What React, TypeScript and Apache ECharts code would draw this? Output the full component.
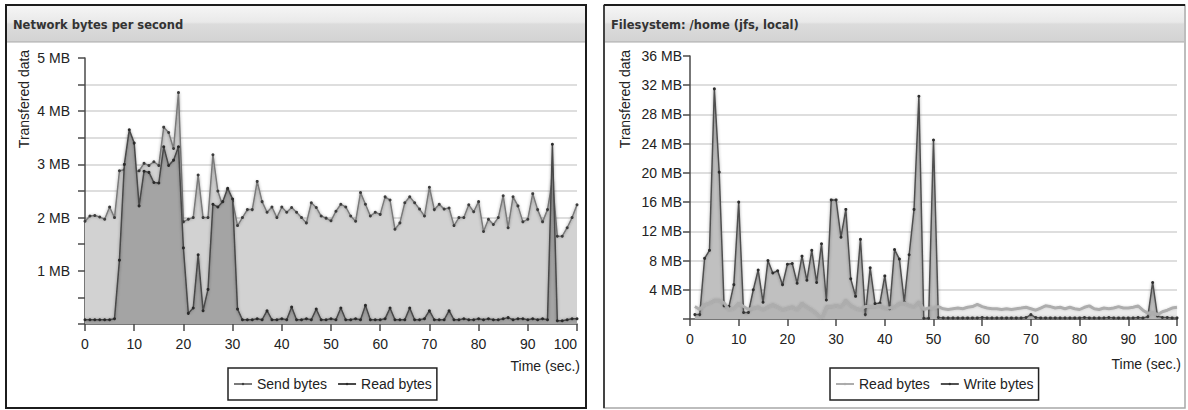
import React, { useEffect, useRef } from "react";
import * as echarts from "echarts";

// ---------- DATA ----------
// Network chart: one sample per second, starting at t = 0
const netStartSec = 0;
const sendBytes = [
  1.93, 2.03, 2.04, 2.01, 1.97, 2.2, 2.0, 2.88, 2.9, 3.55,
  2.85, 2.88, 3.02, 2.98, 3.05, 2.98, 3.7, 3.6, 3.3, 4.35,
  1.92, 1.97, 2.0, 2.8, 2.0, 2.0, 3.18, 2.5, 2.22, 2.53,
  2.31, 1.85, 2.0, 2.15, 2.15, 2.68, 2.3, 2.1, 2.2, 2.0,
  2.2, 2.1, 2.19, 2.1, 2.0, 1.9, 2.28, 2.19, 2.03, 1.99,
  1.94, 2.12, 2.25, 2.2, 2.03, 1.93, 2.47, 2.25, 2.03, 2.1,
  2.06, 2.39, 2.33, 1.78, 1.9, 2.28, 2.39, 2.28, 2.16, 2.03,
  2.57, 2.15, 2.25, 2.16, 2.18, 1.85, 2.0, 2.0, 2.24, 2.11,
  2.3, 1.74, 1.97, 1.87, 2.0, 2.41, 1.81, 2.39, 2.22, 1.92,
  1.97, 2.45, 2.15, 1.92, 2.15, 2.7, 1.65, 1.65, 1.81, 2.0,
  2.24,
];
const netReadBytes = [
  0.08, 0.08, 0.08, 0.08, 0.08, 0.08, 0.1, 1.2, 3.0, 3.65,
  3.4, 2.22, 2.87, 2.85, 2.66, 2.65, 3.33, 2.98, 3.08, 3.33,
  1.43, 0.2, 0.3, 1.3, 0.25, 0.65, 2.25, 2.2, 2.3, 2.55,
  2.35, 0.28, 0.08, 0.08, 0.08, 0.1, 0.08, 0.25, 0.08, 0.08,
  0.1, 0.08, 0.32, 0.08, 0.08, 0.1, 0.08, 0.28, 0.08, 0.08,
  0.1, 0.08, 0.3, 0.08, 0.08, 0.1, 0.08, 0.35, 0.08, 0.08,
  0.08, 0.1, 0.3, 0.08, 0.08, 0.08, 0.3, 0.08, 0.08, 0.1,
  0.25, 0.08, 0.08, 0.08, 0.25, 0.08, 0.08, 0.1, 0.08, 0.08,
  0.1, 0.08, 0.1, 0.08, 0.08, 0.1, 0.12, 0.08, 0.1, 0.1,
  0.08, 0.1, 0.08, 0.1, 0.08, 3.38, 0.06, 0.06, 0.08, 0.1,
  0.1,
];

// Filesystem chart: one sample per second, starting at t = 1
const fsStartSec = 1;
const fsReadBytes = [
  1.7, 1.3, 2.0, 2.2, 2.6, 2.6, 2.2, 1.3, 1.5, 2.2,
  1.7, 1.3, 1.5, 1.7, 1.3, 1.7, 2.0, 1.7, 1.3, 1.5,
  1.7, 1.3, 2.2, 1.7, 1.3, 0.8, 0.1, 1.7, 1.7, 1.9,
  1.7, 2.6, 1.9, 1.5, 1.3, 1.7, 1.7, 1.7, 1.9, 1.5,
  1.5, 1.7, 2.2, 2.2, 1.9, 1.7, 2.4, 1.3, 1.5, 1.5,
  1.7, 1.4, 1.3, 1.4, 1.5, 1.4, 1.6, 1.7, 2.0, 1.7,
  1.5, 1.4, 1.4, 1.3, 1.4, 1.3, 1.4, 1.5, 1.6, 1.4,
  1.2, 1.5, 1.8, 1.7, 1.5, 1.6, 1.4, 1.6, 1.4, 1.3,
  1.6, 1.8, 1.4, 1.3, 1.5, 1.4, 1.5, 1.7, 1.5, 1.5,
  1.6, 1.8, 1.2, 0.8, 0.9, 0.6, 1.0, 1.2, 1.5, 1.6,
];
const fsWriteBytes = [
  0.6, 0.6, 8.3, 9.4, 31.5, 20.1, 1.8, 1.7, 4.7, 16.0,
  0.9, 0.9, 4.0, 6.7, 2.3, 8.0, 6.3, 6.6, 4.7, 7.5,
  7.6, 4.9, 8.6, 5.3, 9.4, 5.0, 10.3, 2.6, 16.3, 16.3,
  11.2, 15.0, 5.5, 3.1, 10.9, 0.6, 7.0, 2.1, 2.2, 5.9,
  1.4, 9.5, 8.2, 2.3, 8.8, 15.0, 30.5, 0.1, 0.1, 24.5,
  0.2, 0.15, 0.15, 0.15, 0.15, 0.15, 0.15, 0.15, 0.15, 0.2,
  0.15, 0.15, 0.15, 0.15, 0.15, 0.15, 0.15, 0.15, 0.2, 0.6,
  0.2, 0.15, 0.15, 0.15, 0.15, 0.15, 0.15, 0.15, 0.15, 0.15,
  0.2, 0.15, 0.15, 0.15, 0.15, 0.2, 0.15, 0.15, 0.15, 0.15,
  0.15, 0.2, 0.15, 0.3, 5.0, 0.4, 0.2, 0.2, 0.15, 0.15,
];

const timeTicks = { min: 0, max: 100, interval: 10 };
const netAxis = { min: 0, max: 5, interval: 0.5 };
const fsAxis = { min: 0, max: 36, interval: 4 };

const netTitle = "Network bytes per second";
const fsTitle = "Filesystem: /home (jfs, local)";
const yTitle = "Transfered data";
const xTitle = "Time (sec.)";

// ---------- STYLE ----------
const FONT = "'Liberation Sans', Arial, sans-serif";
const TITLE_FONT = "bold 11.5px 'DejaVu Sans', Verdana, sans-serif";

const toPairs = (arr: number[], start: number) => arr.map((v, i) => [start + i, v]);

function panelGraphics(w: number, frameX: number, dark: boolean, title: string, yTitleX: number, timeRight: number, timeY: number) {
  const frameW = w;
  const grad = new echarts.graphic.LinearGradient(0, 0, 0, 1, [
    { offset: 0, color: "#f5f5f5" },
    { offset: 0.45, color: "#e9e9e9" },
    { offset: 0.5, color: "#dcdcdc" },
    { offset: 1, color: "#d3d3d3" },
  ]);
  const els: any[] = [
    {
      type: "rect",
      shape: { x: frameX + 1, y: 6, width: frameW - 2, height: 36 },
      style: { fill: grad },
      silent: true,
    },
    {
      type: "line",
      shape: { x1: frameX + 1, y1: 42, x2: frameX + frameW - 1, y2: 42 },
      style: { stroke: "#a9a9a9", lineWidth: 1 },
      silent: true,
    },
    {
      type: "rect",
      shape: { x: frameX, y: 5, width: frameW, height: 403 },
      style: { fill: "none", stroke: dark ? "#1c1c1c" : "#a8a8a8", lineWidth: dark ? 2 : 1.5 },
      silent: true,
    },
    {
      type: "text",
      x: frameX + 7,
      y: 25,
      style: { text: title, font: TITLE_FONT, fill: "#333", textVerticalAlign: "middle", verticalAlign: "middle" },
      silent: true,
    },
    {
      type: "text",
      x: yTitleX,
      y: 99,
      rotation: Math.PI / 2,
      style: {
        text: yTitle,
        font: "14px " + FONT,
        fill: "#222",
        textAlign: "center",
        align: "center",
        textVerticalAlign: "middle",
        verticalAlign: "middle",
      },
      silent: true,
    },
    {
      type: "text",
      x: timeRight,
      y: timeY,
      style: {
        text: xTitle,
        font: "14px " + FONT,
        fill: "#222",
        textAlign: "right",
        align: "right",
        textVerticalAlign: "middle",
        verticalAlign: "middle",
      },
      silent: true,
    },
  ];
  if (!dark) {
    els.push(
      {
        type: "line",
        shape: { x1: frameX, y1: 5, x2: frameX + frameW, y2: 5 },
        style: { stroke: "#1c1c1c", lineWidth: 2 },
        silent: true,
      },
      {
        type: "line",
        shape: { x1: frameX, y1: 5, x2: frameX, y2: 408 },
        style: { stroke: "#1c1c1c", lineWidth: 1.5 },
        silent: true,
      }
    );
  }
  return els;
}

const axisLineStyle = { color: "#4a4a4a", width: 1.5 };

function xAxisCfg() {
  return {
    type: "value",
    min: timeTicks.min,
    max: timeTicks.max,
    interval: timeTicks.interval,
    axisLine: { show: true, lineStyle: axisLineStyle },
    axisTick: { show: true, length: 7, lineStyle: axisLineStyle },
    axisLabel: { color: "#222", fontSize: 14, fontFamily: FONT, margin: 13, alignMaxLabel: "right" },
    splitLine: { show: false },
  };
}

function yAxisCfg(ax: { min: number; max: number; interval: number }, labelStep: number, margin: number) {
  return {
    type: "value",
    min: ax.min,
    max: ax.max,
    interval: ax.interval,
    axisLine: { show: true, lineStyle: axisLineStyle },
    axisTick: { show: true, length: 7, lineStyle: axisLineStyle },
    axisLabel: {
      color: "#222",
      fontSize: 14,
      fontFamily: FONT,
      margin,
      formatter: (v: number) => (v > 0 && Math.abs(v / labelStep - Math.round(v / labelStep)) < 1e-6 ? `${v} MB` : ""),
    },
    splitLine: {
      show: true,
      showMaxLine: false,
      showMinLine: false,
      lineStyle: { color: "#d3d3d3", width: 1.5 },
    },
  };
}

const glow = { shadowColor: "rgba(0,0,0,0.35)", shadowBlur: 3 };

function legendCfg(left: number, names: string[]) {
  return {
    left,
    top: 368,
    orient: "horizontal",
    itemWidth: 18,
    itemHeight: 3,
    itemGap: 10,
    borderColor: "#222",
    borderWidth: 1.5,
    borderRadius: 0,
    padding: [9, 5],
    textStyle: { fontSize: 14, fontFamily: FONT, color: "#222" },
    data: names,
    selectedMode: false,
  };
}

function netOption() {
  return {
    animation: false,
    graphic: panelGraphics(580, 6, true, netTitle, 24, 580, 366),
    grid: { left: 85, top: 58, width: 492, height: 266 },
    xAxis: xAxisCfg(),
    yAxis: yAxisCfg(netAxis, 1, 15),
    legend: legendCfg(228, ["Send bytes", "Read bytes"]),
    series: [
      {
        type: "line",
        name: "Send bytes",
        data: toPairs(sendBytes, netStartSec),
        symbol: "circle",
        symbolSize: 3,
        showSymbol: true,
        itemStyle: { color: "#3c3c3c" },
        lineStyle: { color: "#7a7a7a", width: 1.5, ...glow },
        areaStyle: { color: "#d2d2d2", opacity: 1 },
        z: 2,
      },
      {
        type: "line",
        name: "Read bytes",
        data: toPairs(netReadBytes, netStartSec),
        symbol: "circle",
        symbolSize: 3,
        showSymbol: true,
        itemStyle: { color: "#2a2a2a" },
        lineStyle: { color: "#484848", width: 1.5, ...glow },
        areaStyle: { color: "#a4a4a4", opacity: 1 },
        z: 3,
      },
    ],
  };
}

function fsOption() {
  return {
    animation: false,
    graphic: panelGraphics(581, 8, false, fsTitle, 29, 585, 364),
    grid: { left: 94, top: 56, width: 487, height: 263 },
    xAxis: xAxisCfg(),
    yAxis: yAxisCfg(fsAxis, 4, 8),
    legend: legendCfg(234, ["Read bytes", "Write bytes"]),
    series: [
      {
        type: "line",
        name: "Write bytes",
        data: toPairs(fsWriteBytes, fsStartSec),
        symbol: "circle",
        symbolSize: 3,
        showSymbol: true,
        itemStyle: { color: "#2e2e2e" },
        lineStyle: { color: "#505050", width: 1.5, ...glow },
        areaStyle: { color: "#c0c0c0", opacity: 1 },
        z: 2,
      },
      {
        type: "line",
        name: "Read bytes",
        data: toPairs(fsReadBytes, fsStartSec),
        symbol: "circle",
        symbolSize: 2,
        showSymbol: false,
        itemStyle: { color: "#aaaaaa" },
        lineStyle: { color: "#adadad", width: 3, shadowColor: "rgba(0,0,0,0.15)", shadowBlur: 2 },
        areaStyle: { color: "rgba(110,110,110,0.2)" },
        z: 3,
      },
    ],
  };
}

function ChartBox({ left, width, option }: { left: number; width: number; option: () => any }) {
  const ref = useRef<HTMLDivElement>(null);
  useEffect(() => {
    if (!ref.current) return;
    const chart = echarts.init(ref.current, undefined, { renderer: "svg" });
    chart.setOption(option());
    return () => chart.dispose();
  }, [option]);
  return <div ref={ref} style={{ position: "absolute", left, top: 0, width, height: 410 }} />;
}

export default function App() {
  return (
    <div style={{ position: "fixed", left: 0, top: 0, width: 1188, height: 410, background: "#fff" }}>
      <ChartBox left={0} width={596} option={netOption} />
      <ChartBox left={596} width={592} option={fsOption} />
    </div>
  );
}
